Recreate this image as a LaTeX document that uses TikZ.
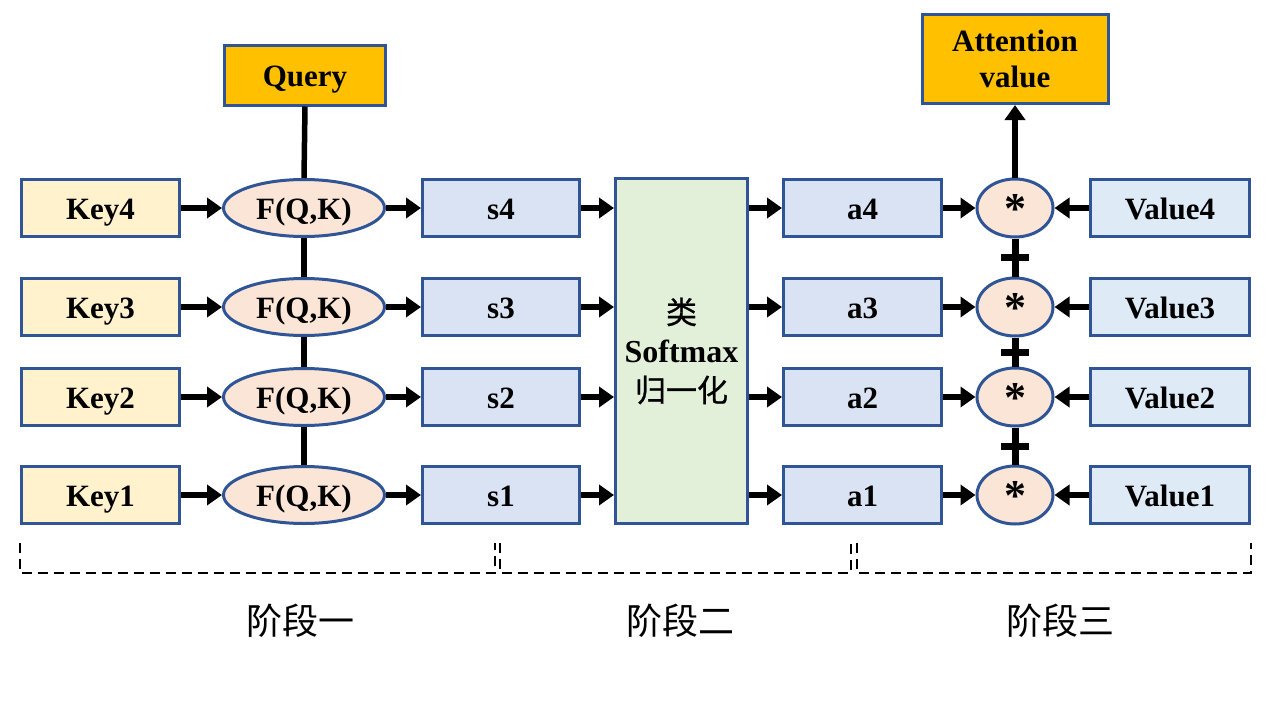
\documentclass[tikz,border=0pt]{standalone}
\usepackage{fontspec}
\setmainfont{Liberation Serif}
\newfontfamily\cjk{Noto Sans CJK SC}
\newfontfamily\cjkm{Noto Sans CJK SC}[FakeBold=0.8]
\usetikzlibrary{arrows.meta,shapes.geometric,calc}
\definecolor{bord}{HTML}{2F5597}
\definecolor{keyc}{HTML}{FFF2CC}
\definecolor{bluec}{HTML}{DAE3F3}
\definecolor{valc}{HTML}{DEEBF7}
\definecolor{greenc}{HTML}{E2F0D9}
\definecolor{pinkc}{HTML}{FBE5D6}
\definecolor{orangec}{HTML}{FFC000}
\begin{document}
\begin{tikzpicture}[x=1pt,y=-1pt,
  frame/.style={draw=bord,line width=3pt,inner sep=0pt},
  box/.style={frame,minimum width=158pt,minimum height=57pt,text height=22pt,text depth=0pt,font=\fontsize{31}{36}\selectfont\bfseries},
  keybox/.style={box,fill=keyc},
  sbox/.style={box,fill=bluec},
  valbox/.style={box,fill=valc},
  fqk/.style={ellipse,frame,fill=pinkc,minimum width=161pt,minimum height=57pt,text height=22pt,text depth=0pt,font=\fontsize{31}{36}\selectfont\bfseries},
  mul/.style={ellipse,frame,fill=pinkc,minimum width=76pt,minimum height=58pt,text height=30pt,text depth=0pt,font=\fontsize{44}{44}\selectfont\bfseries},
  arr/.style={line width=5.5pt,-{Triangle[length=15pt,width=20pt]}},
  link/.style={line width=5.5pt},
  plusbar/.style={line width=7pt},
  bracket/.style={line width=2.5pt,dash pattern=on 10pt off 6pt},
  stage/.style={font=\cjk\fontsize{36}{40}\selectfont}
]
\useasboundingbox (0,0) rectangle (1280,720);

% top boxes
\node[box,fill=orangec,minimum width=161pt,minimum height=60pt] (query) at (305,75) {Query};
\node[frame,fill=orangec,minimum width=186pt,minimum height=89pt,align=center,font=\fontsize{31}{36}\selectfont\bfseries] (att) at (1015,59) {Attention\\value};

% rows
\foreach \i/\y in {4/208,3/307,2/397,1/495}{
  \node[keybox] (k\i) at (100.5,\y) {Key\i};
  \node[fqk] (f\i) at (304,\y) {F(Q,K)};
  \node[sbox,minimum width=157pt] (s\i) at (501,\y) {s\i};
  \node[sbox] (a\i) at (862.5,\y) {a\i};
  \node[mul] (m\i) at (1015,\y) {*};
  \node[valbox,minimum width=159pt] (v\i) at (1170,\y) {Value\i};
}

% softmax
\node[frame,fill=greenc,minimum width=132pt,minimum height=345pt,align=center,font=\fontsize{32}{39}\selectfont\bfseries] (soft) at (681.5,351) {{\cjkm\mdseries\fontsize{31}{39}\selectfont 类}\\Softmax\\{\cjkm\mdseries\fontsize{31}{39}\selectfont 归一化}};

% connectors
\draw[link] (query.south) -- (f4.north);
\draw[link] (f4.south) -- (f3.north);
\draw[link] (f3.south) -- (f2.north);
\draw[link] (f2.south) -- (f1.north);
\foreach \i in {1,2,3,4}{
  \draw[arr] (k\i.east) -- (f\i.west);
  \draw[arr] (f\i.east) -- (s\i.west);
  \draw[arr] (s\i.east) -- (soft.west |- s\i.east);
  \draw[arr] (soft.east |- a\i.west) -- (a\i.west);
  \draw[arr] (a\i.east) -- (m\i.west);
  \draw[arr] (v\i.west) -- (m\i.east);
}
\draw[arr] (m4.north) -- (att.south);

% plus signs
\foreach \u/\l in {4/3,3/2,2/1}{
  \coordinate (p\u) at ($(m\u.south)!0.5!(m\l.north)$);
  \draw[plusbar] (m\u.south) -- (m\l.north);
  \draw[plusbar] ($(p\u)+(-14,0)$) -- ($(p\u)+(14,0)$);
}

% brackets
\draw[bracket] (20,543) -- (20,573) -- (495,573) -- (495,543);
\draw[bracket] (500,543) -- (500,573) -- (851,573) -- (851,543);
\draw[bracket] (857,543) -- (857,573) -- (1251,573) -- (1251,543);

\node[stage] (st1) at (300,621) {阶段一};
\node[stage] (st2) at (680,621) {阶段二};
\node[stage] (st3) at (1060,621) {阶段三};
\end{tikzpicture}
\end{document}
